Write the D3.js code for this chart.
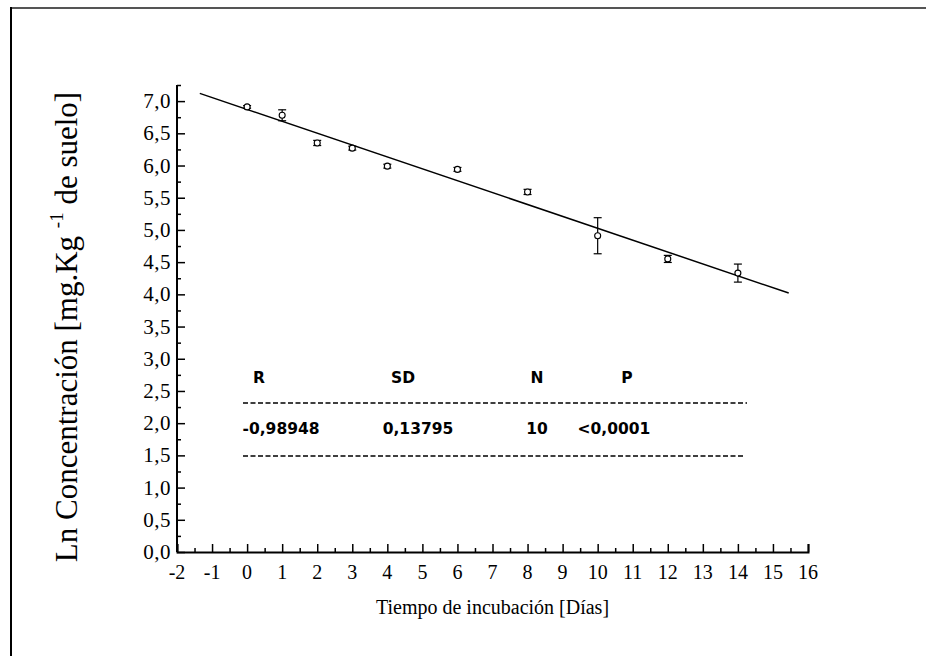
<!DOCTYPE html>
<html>
<head>
<meta charset="utf-8">
<script src="https://cdn.jsdelivr.net/npm/d3@7"></script>
<style>
  body { margin: 0; background: #fff; }
  svg { display: block; }
  .serif { font-family: "Liberation Serif", "Times New Roman", serif; }
  .sans { font-family: "DejaVu Sans", Verdana, sans-serif; font-weight: bold; }
</style>
</head>
<body>
<div id="chart"></div>
<script>
// Data
const days = [0, 1, 2, 3, 4, 6, 8, 10, 12, 14];
const lnConc = [6.91, 6.78, 6.35, 6.27, 5.99, 5.94, 5.59, 4.91, 4.55, 4.33];
const errors = [0.02, 0.085, 0.04, 0.03, 0.03, 0.03, 0.04, 0.28, 0.055, 0.14];

// Regression line end points
const fitX = [-1.35, 15.45];
const fitY = [7.12, 4.02];

// Statistics table
const statHeaders = ['R', 'SD', 'N', 'P'];
const statValues = ['-0,98948', '0,13795', '10', '<0,0001'];

const xTicks = d3.range(-2, 17, 1);
const yTicks = d3.range(0, 7.01, 0.5);

const width = 926, height = 656;
const margin = { top: 85, right: 118, bottom: 104, left: 177 };

const svg = d3.select('#chart')
  .append('svg')
  .attr('width', width)
  .attr('height', height);

// frame lines (top and left only)
svg.append('line')
  .attr('x1', 10).attr('x2', width).attr('y1', 8).attr('y2', 8)
  .attr('stroke', '#555').attr('stroke-width', 2);
svg.append('line')
  .attr('x1', 11).attr('x2', 11).attr('y1', 7).attr('y2', height)
  .attr('stroke', '#000').attr('stroke-width', 2);

const x = d3.scaleLinear()
  .domain([-2, 16])
  .range([margin.left, width - margin.right]);

const y = d3.scaleLinear()
  .domain([0, 7.25])
  .range([height - margin.bottom, margin.top]);

// x axis: major ticks at integers, minor at halves, pointing inward
const xMinor = svg.append('g')
  .attr('transform', `translate(0, ${y(0)})`)
  .call(d3.axisTop(x).tickValues(d3.range(-1.5, 16, 1)).tickSize(4).tickFormat(''));
xMinor.select('.domain').remove();
const xMajor = svg.append('g')
  .attr('transform', `translate(0, ${y(0)})`)
  .call(d3.axisTop(x).tickValues(xTicks).tickSize(8).tickFormat(''));
xMajor.select('.domain').attr('stroke-width', 2);

svg.append('g')
  .selectAll('text')
  .data(xTicks)
  .enter()
  .append('text')
  .attr('class', 'serif')
  .attr('x', d => x(d))
  .attr('y', y(0) + 27)
  .attr('text-anchor', 'middle')
  .attr('font-size', 20)
  .text(d => d);

// y axis
const yMinor = svg.append('g')
  .attr('transform', `translate(${x(-2)}, 0)`)
  .call(d3.axisRight(y).tickValues(d3.range(0.25, 7.3, 0.5)).tickSize(4).tickFormat(''));
yMinor.select('.domain').remove();
const yMajor = svg.append('g')
  .attr('transform', `translate(${x(-2)}, 0)`)
  .call(d3.axisRight(y).tickValues(yTicks).tickSize(8).tickFormat(''));
yMajor.select('.domain')
  .attr('d', `M0,${y(7.25)}V${y(0)}`)
  .attr('stroke-width', 2);
svg.selectAll('.tick line').attr('stroke-width', 1.5);

svg.append('g')
  .selectAll('text')
  .data(yTicks)
  .enter()
  .append('text')
  .attr('class', 'serif')
  .attr('x', x(-2) - 6)
  .attr('y', d => y(d) + 7)
  .attr('text-anchor', 'end')
  .attr('font-size', 21)
  .attr('letter-spacing', 0.5)
  .text(d => d.toFixed(1).replace('.', ','));

// axis titles
svg.append('text')
  .attr('class', 'serif')
  .attr('x', x(7))
  .attr('y', 614)
  .attr('text-anchor', 'middle')
  .attr('font-size', 20)
  .text('Tiempo de incubación [Días]');

const yTitle = svg.append('text')
  .attr('class', 'serif')
  .attr('transform', 'translate(77, 327) rotate(-90)')
  .attr('text-anchor', 'middle')
  .attr('font-size', 31);
yTitle.append('tspan').text('Ln Concentración [mg.Kg ');
yTitle.append('tspan').attr('font-size', 19).attr('dy', -14).text('-1');
yTitle.append('tspan').attr('dy', 14).text('  de suelo]');

// regression line
svg.append('line')
  .attr('x1', x(fitX[0])).attr('y1', y(fitY[0]))
  .attr('x2', x(fitX[1])).attr('y2', y(fitY[1]))
  .attr('stroke', '#000')
  .attr('stroke-width', 1.5);

// error bars
const pts = days.map((d, i) => ({ day: d, value: lnConc[i], err: errors[i] }));
const errG = svg.append('g').attr('stroke', '#000').attr('stroke-width', 1.2);
pts.forEach(p => {
  errG.append('line')
    .attr('x1', x(p.day)).attr('x2', x(p.day))
    .attr('y1', y(p.value + p.err)).attr('y2', y(p.value - p.err));
  [p.value + p.err, p.value - p.err].forEach(v => {
    errG.append('line')
      .attr('x1', x(p.day) - 4).attr('x2', x(p.day) + 4)
      .attr('y1', y(v)).attr('y2', y(v));
  });
});

// markers
svg.selectAll('circle')
  .data(pts)
  .enter()
  .append('circle')
  .attr('cx', d => x(d.day))
  .attr('cy', d => y(d.value))
  .attr('r', 3)
  .attr('fill', '#fff')
  .attr('stroke', '#000')
  .attr('stroke-width', 1.1);

// statistics table
const headerX = [259, 403, 537, 627];
const valueX = [281, 418, 537, 614];
svg.append('g')
  .selectAll('text')
  .data(statHeaders)
  .enter()
  .append('text')
  .attr('class', 'sans')
  .attr('x', (d, i) => headerX[i])
  .attr('y', 383)
  .attr('text-anchor', 'middle')
  .attr('font-size', 15.5)
  .text(d => d);

svg.append('g')
  .selectAll('text')
  .data(statValues)
  .enter()
  .append('text')
  .attr('class', 'sans')
  .attr('x', (d, i) => valueX[i])
  .attr('y', 434)
  .attr('text-anchor', 'middle')
  .attr('font-size', 15.5)
  .text(d => d);

svg.append('line')
  .attr('x1', 243).attr('x2', 747).attr('y1', 403).attr('y2', 403)
  .attr('stroke', '#000').attr('stroke-width', 1.5)
  .attr('stroke-dasharray', '5,2.5');
svg.append('line')
  .attr('x1', 243).attr('x2', 745).attr('y1', 456).attr('y2', 456)
  .attr('stroke', '#000').attr('stroke-width', 1.5)
  .attr('stroke-dasharray', '5,2.5');
</script>
</body>
</html>
